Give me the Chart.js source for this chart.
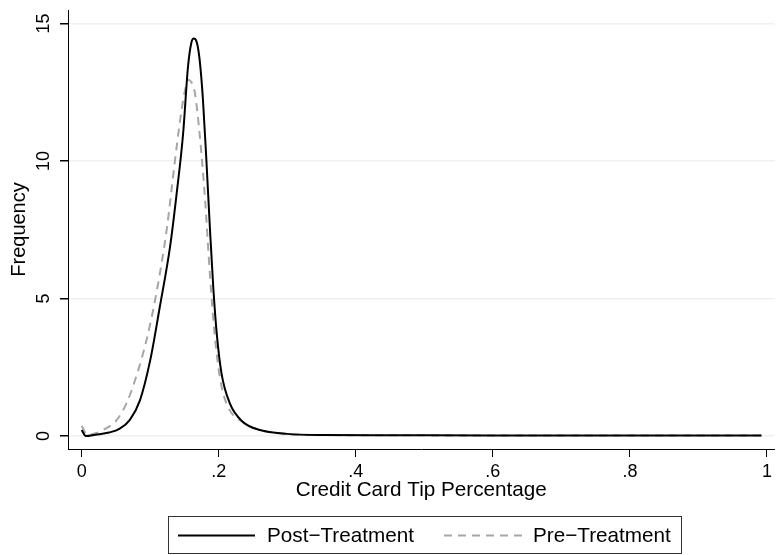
<!DOCTYPE html>
<html>
<head>
<meta charset="utf-8">
<script src="https://cdn.jsdelivr.net/npm/chart.js@4/dist/chart.umd.min.js"></script>
<style>
  body { margin: 0; background: #fff; }
  #wrap { width: 776px; height: 555px; }
</style>
</head>
<body>
<div id="wrap"><canvas id="chart" width="776" height="555"></canvas></div>
<script>
// kernel density of tip share
const postX = [0.000, 0.006, 0.020, 0.040, 0.055, 0.070, 0.085, 0.100, 0.114, 0.129, 0.138, 0.148, 0.155, 0.160, 0.1635, 0.1675, 0.172, 0.177, 0.182, 0.187, 0.192, 0.197, 0.204, 0.216, 0.235, 0.260, 0.300, 0.350, 0.450, 0.600, 0.800, 0.992];
const postY = [0.22, 0.00, 0.05, 0.13, 0.26, 0.58, 1.30, 2.76, 4.70, 6.90, 8.70, 11.0, 13.4, 14.3, 14.45, 14.35, 13.7, 12.2, 10.0, 7.6, 5.4, 3.74, 2.28, 1.20, 0.52, 0.22, 0.08, 0.04, 0.03, 0.02, 0.02, 0.02];

const preX = [0.000, 0.008, 0.020, 0.031, 0.051, 0.0655, 0.080, 0.0947, 0.109, 0.124, 0.136, 0.1457, 0.151, 0.155, 0.159, 0.165, 0.172, 0.180, 0.187, 0.194, 0.2015, 0.211, 0.235, 0.260, 0.300, 0.350, 0.450, 0.600, 0.800, 0.992];
const preY = [0.37, 0.05, 0.10, 0.22, 0.58, 1.20, 2.20, 3.50, 5.20, 7.50, 10.0, 11.85, 12.6, 12.95, 12.9, 12.5, 11.0, 8.6, 5.9, 3.7, 2.15, 1.20, 0.50, 0.22, 0.08, 0.04, 0.03, 0.02, 0.02, 0.02];

const seriesNames = ['Post\u2212Treatment', 'Pre\u2212Treatment'];

const xTicks = [0, 0.2, 0.4, 0.6, 0.8, 1];
const xTickLabels = ['0', '.2', '.4', '.6', '.8', '1'];
const yTicks = [0, 5, 10, 15];
const yTickLabels = ['0', '5', '10', '15'];

const FONT = '"Liberation Sans", Arial, Helvetica, sans-serif';

const toPoints = (xs, ys) => xs.map((x, i) => ({ x: x, y: ys[i] }));

// y tick labels are rotated like Stata does it
const yLabelsPlugin = {
  id: 'yLabels',
  afterDraw(chart) {
    const ctx = chart.ctx;
    const ys = chart.scales.y;
    ctx.save();
    ctx.font = '18px ' + FONT;
    ctx.fillStyle = '#000';
    ctx.textAlign = 'center';
    ctx.textBaseline = 'middle';
    yTicks.forEach((v, i) => {
      const py = ys.getPixelForValue(v);
      ctx.save();
      ctx.translate(44, py);
      ctx.rotate(-Math.PI / 2);
      ctx.fillText(yTickLabels[i], 0, 0);
      ctx.restore();
    });
    ctx.restore();
  }
};

// boxed legend under the plot
const boxLegendPlugin = {
  id: 'boxLegend',
  afterDraw(chart) {
    const ctx = chart.ctx;
    const ds = chart.data.datasets;
    ctx.save();
    ctx.strokeStyle = '#333';
    ctx.lineWidth = 1;
    ctx.strokeRect(168.5, 516.5, 513, 37);

    const items = [
      { x0: 178, x1: 255, tx: 267 },
      { x0: 444, x1: 522, tx: 533 }
    ];
    items.forEach((it, i) => {
      ctx.beginPath();
      ctx.strokeStyle = ds[i].borderColor;
      ctx.lineWidth = ds[i].borderWidth;
      ctx.setLineDash(ds[i].borderDash || []);
      ctx.moveTo(it.x0, 535.5);
      ctx.lineTo(it.x1, 535.5);
      ctx.stroke();
      ctx.setLineDash([]);
      ctx.font = '20.7px ' + FONT;
      ctx.fillStyle = '#000';
      ctx.textAlign = 'left';
      ctx.textBaseline = 'middle';
      ctx.fillText(seriesNames[i], it.tx, 536);
    });
    ctx.restore();
  }
};

new Chart(document.getElementById('chart'), {
  type: 'line',
  data: {
    datasets: [
      {
        label: seriesNames[0],
        data: toPoints(postX, postY),
        borderColor: '#000',
        borderWidth: 2,
        pointRadius: 0,
        cubicInterpolationMode: 'monotone',
        fill: false
      },
      {
        label: seriesNames[1],
        data: toPoints(preX, preY),
        borderColor: '#a6a6a6',
        borderWidth: 2,
        borderDash: [8, 6],
        pointRadius: 0,
        cubicInterpolationMode: 'monotone',
        fill: false
      }
    ]
  },
  options: {
    responsive: false,
    animation: false,
    layout: { padding: { top: 10, right: 0, left: 0, bottom: 52 } },
    plugins: {
      legend: { display: false },
      tooltip: { enabled: false }
    },
    scales: {
      x: {
        type: 'linear',
        min: -0.02,
        max: 1.011,
        afterBuildTicks: s => { s.ticks = xTicks.map(v => ({ value: v })); },
        afterFit: s => { s.height = 54; },
        ticks: {
          callback: (v, i) => xTickLabels[i],
          font: { size: 18, family: FONT },
          color: '#000',
          padding: 4,
          maxRotation: 0,
          autoSkip: false
        },
        grid: { drawOnChartArea: false, tickLength: 8, tickColor: '#000' },
        border: { color: '#000', width: 1 },
        title: {
          display: true,
          text: 'Credit Card Tip Percentage',
          font: { size: 20.7, family: FONT },
          color: '#000',
          padding: 0
        }
      },
      y: {
        min: -0.47,
        max: 15.49,
        afterBuildTicks: s => { s.ticks = yTicks.map(v => ({ value: v })); },
        afterFit: s => { s.width = 68; },
        ticks: { display: false },
        grid: { color: '#eaf2f3', lineWidth: 1.5, tickLength: 8, tickColor: '#000' },
        border: { color: '#000', width: 1 },
        title: {
          display: true,
          text: 'Frequency',
          font: { size: 20, family: FONT },
          color: '#000',
          padding: { top: 7, bottom: 0 }
        }
      }
    }
  },
  plugins: [yLabelsPlugin, boxLegendPlugin]
});
</script>
</body>
</html>
